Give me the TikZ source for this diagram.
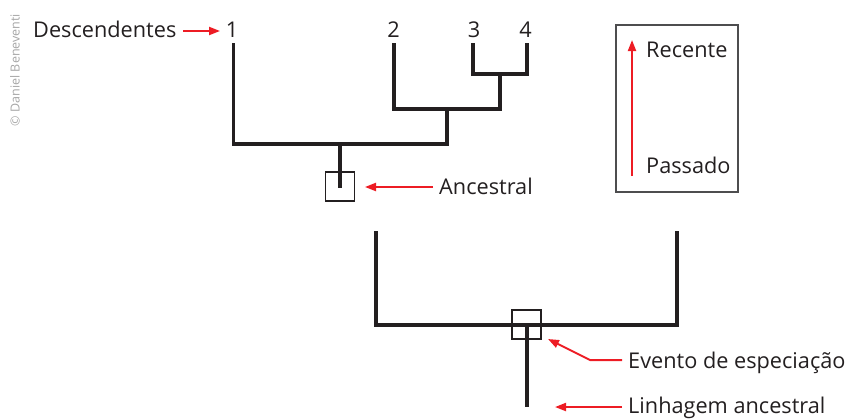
\documentclass[tikz,border=0pt]{standalone}
\usepackage{fontspec}
\setmainfont{Open Sans}
\usetikzlibrary{arrows.meta}
\definecolor{ink}{HTML}{231F20}
\definecolor{redarrow}{HTML}{ED1C24}
\definecolor{framegray}{HTML}{4D4D4F}
\begin{document}
\begin{tikzpicture}[x=1pt,y=-1pt,
  lbl/.style={font=\fontsize{21.7}{25}\selectfont, text=ink, inner sep=0pt},
  branch/.style={draw=ink, line width=3.2pt, line cap=rect},
  redarr/.style={draw=redarrow, line width=2pt, -{Triangle[length=11pt,width=8pt]}},
  markbox/.style={draw=ink, line width=1.4pt, minimum size=29pt, inner sep=0pt}]
\useasboundingbox (0,0) rectangle (849,418);

% watermark
\node[rotate=90, font=\fontsize{12.5}{13}\selectfont, text=black!35, inner sep=0pt] (wm) at (15,70) {© Daniel Beneventi};

% labels
\node[lbl, anchor=base west] (desc) at (33,37.5) {Descendentes};
\node[lbl, anchor=base] (n1) at (232,37.5) {1};
\node[lbl, anchor=base] (n2) at (393.5,37.5) {2};
\node[lbl, anchor=base] (n3) at (474,37.5) {3};
\node[lbl, anchor=base] (n4) at (525.5,37.5) {4};

% upper tree
\coordinate (t1) at (233.5,45);
\coordinate (t2) at (394,45);
\coordinate (t3) at (473,45);
\coordinate (t4) at (527,45);
\coordinate (j34) at (500,74);
\coordinate (j234) at (447,109);
\coordinate (jroot) at (340,144);
\coordinate (rootend) at (340,186);
\draw[branch] (t3) |- (j34) -| (t4);
\draw[branch] (j34) -- (j34 |- j234);
\draw[branch] (t2) |- (j234) -| (j34 |- j234);
\draw[branch] (j234) -- (j234 |- jroot);
\draw[branch] (t1) |- (jroot) -| (j234 |- jroot);
\draw[branch] (jroot) -- (rootend);
\node[markbox] (anc) at (340,186.5) {};

\node[lbl, anchor=base west] (ancl) at (439,194) {Ancestral};
\draw[redarr] (433,187) -- (365,187);

% descendentes arrow
\draw[redarr] (183,31) -- (220,31);

% legend box
\node[draw=framegray, line width=2pt, minimum width=122pt, minimum height=167pt, inner sep=0pt] (legend) at (677,108.5) {};
\coordinate (lgbot) at (632,176);
\coordinate (lgtop) at (632,40);
\draw[redarr] (lgbot) -- (lgtop);
\node[lbl, anchor=base west] (rec) at (646,57) {Recente};
\node[lbl, anchor=base west] (pas) at (646,173) {Passado};

% lower tree
\coordinate (lA) at (376,233);
\coordinate (lB) at (677,233);
\coordinate (lj) at (527,325);
\coordinate (lroot) at (527,405);
\draw[branch] (lA) |- (lj) -| (lB);
\draw[branch] (lj) -- (lroot);
\node[markbox] (spec) at (526.5,324.5) {};

\node[lbl, anchor=base west] (ev) at (628,368) {Evento de especiação};
\node[lbl, anchor=base west] (lin) at (628,413) {Linhagem ancestral};
\coordinate (evk) at (590,360);
\draw[redarr] (622,360) -- (evk) -- (548,339);
\draw[redarr] (622,407) -- (555,407);
\end{tikzpicture}
\end{document}
